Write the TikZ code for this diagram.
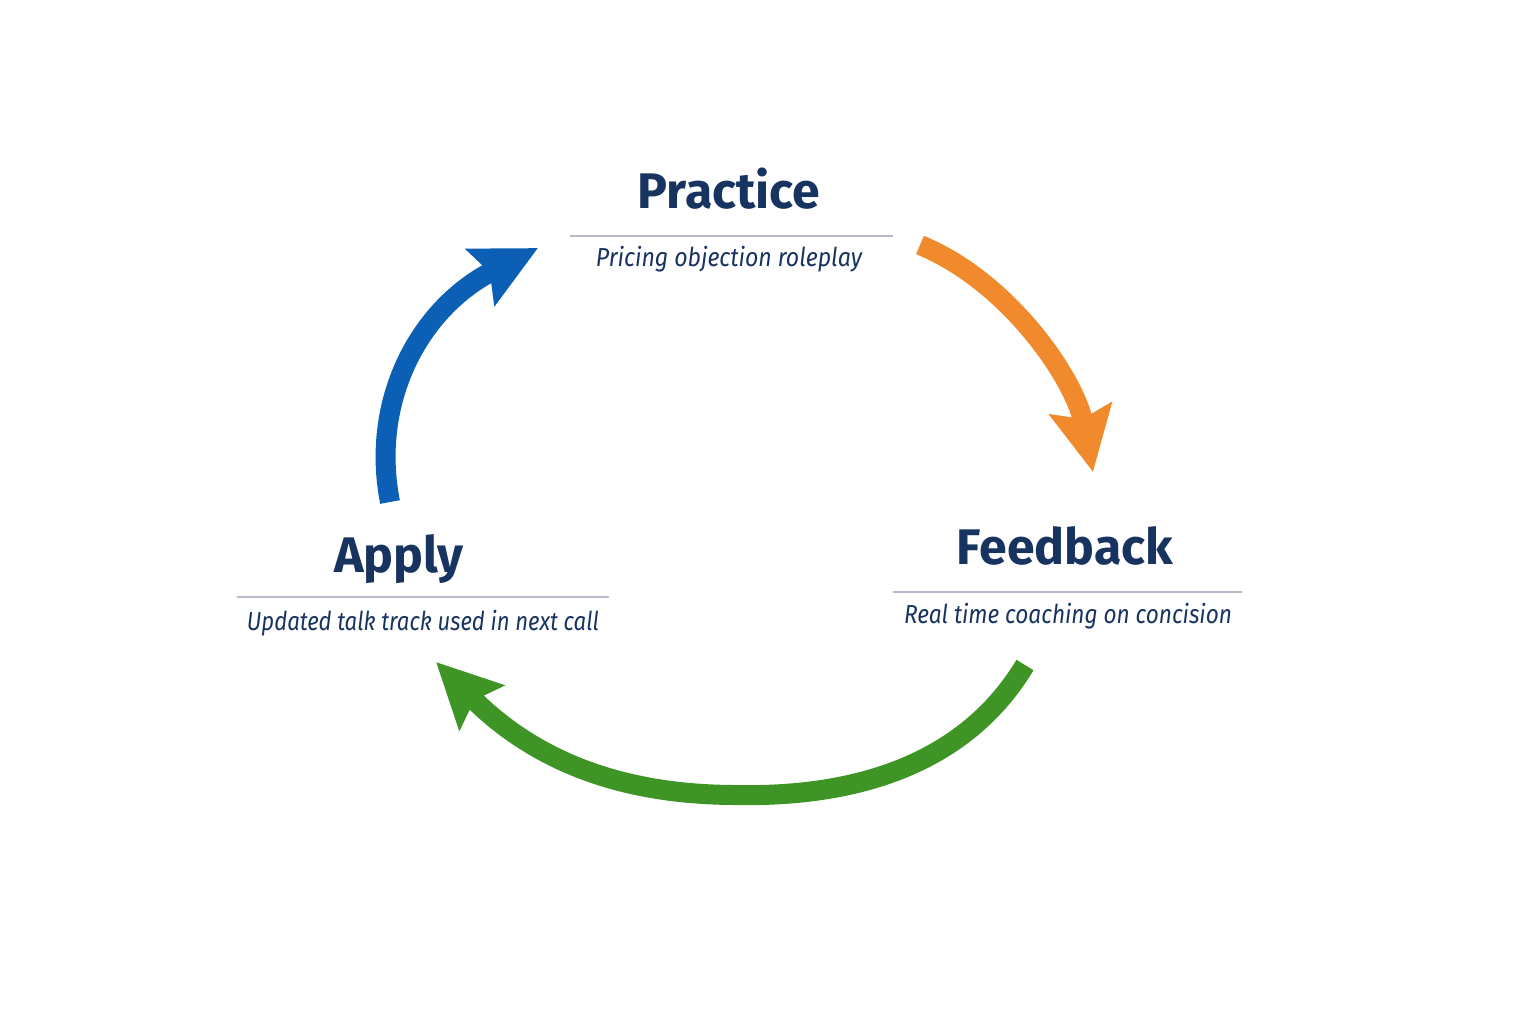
\documentclass[tikz,border=0pt]{standalone}
\usepackage{fontspec}
\setmainfont{Fira Sans}
\usetikzlibrary{arrows.meta}
\definecolor{navy}{HTML}{17335F}
\definecolor{rulegray}{HTML}{B6BACA}
\definecolor{cblue}{HTML}{0B60B5}
\definecolor{corange}{HTML}{F08A2C}
\definecolor{cgreen}{HTML}{3F9426}
\tikzset{
  title/.style={anchor=base, text=navy, font=\bfseries\fontsize{25}{28}\selectfont, inner sep=0pt},
  subtitle/.style={anchor=base, text=navy, font=\itshape\fontsize{13}{15}\selectfont, inner sep=0pt},
  sep/.style={draw=rulegray, line width=0.8pt},
  cyc/.style={line width=10pt, -{Stealth[length=32pt, width=31pt, inset=5pt]}}
}
\begin{document}
\begin{tikzpicture}[x=0.5pt, y=-0.5pt]
\useasboundingbox (0,0) rectangle (1536,1024);
\fill[white] (0,0) rectangle (1536,1024);
% Practice
\node[title] (pt) at (729,208) {Practice};
\coordinate (pl1) at (570,236);
\coordinate (pl2) at (893,236);
\draw[sep] (pl1) -- (pl2);
\node[subtitle] (ps) at (729,266) {\scalebox{0.89}[1]{Pricing objection roleplay}};
% Feedback
\node[title] (ft) at (1065,564) {Feedback};
\coordinate (fl1) at (893,592);
\coordinate (fl2) at (1242,592);
\draw[sep] (fl1) -- (fl2);
\node[subtitle] (fs) at (1068,623) {\scalebox{0.87}[1]{Real time coaching on concision}};
% Apply
\node[title] (at) at (399,572) {Apply};
\coordinate (al1) at (237,597);
\coordinate (al2) at (609,597);
\draw[sep] (al1) -- (al2);
\node[subtitle] (as) at (423,630) {\scalebox{0.85}[1]{Updated talk track used in next call}};
% arrows
\coordinate (b0) at (390,502);
\coordinate (b1) at (538,248);
\draw[cyc, draw=cblue] (b0) .. controls (370,400) and (420,308) .. (b1);
\coordinate (o0) at (920,245);
\coordinate (o1) at (1093,472);
\draw[cyc, draw=corange] (o0) .. controls (1010,282) and (1075,380) .. (o1);
\coordinate (g0) at (1025,665);
\coordinate (gm) at (737,795);
\coordinate (g1) at (436,662);
\draw[cyc, draw=cgreen] (g0) .. controls (960,773) and (840,797) .. (gm) .. controls (630,795) and (540,766) .. (g1);
\end{tikzpicture}
\end{document}
